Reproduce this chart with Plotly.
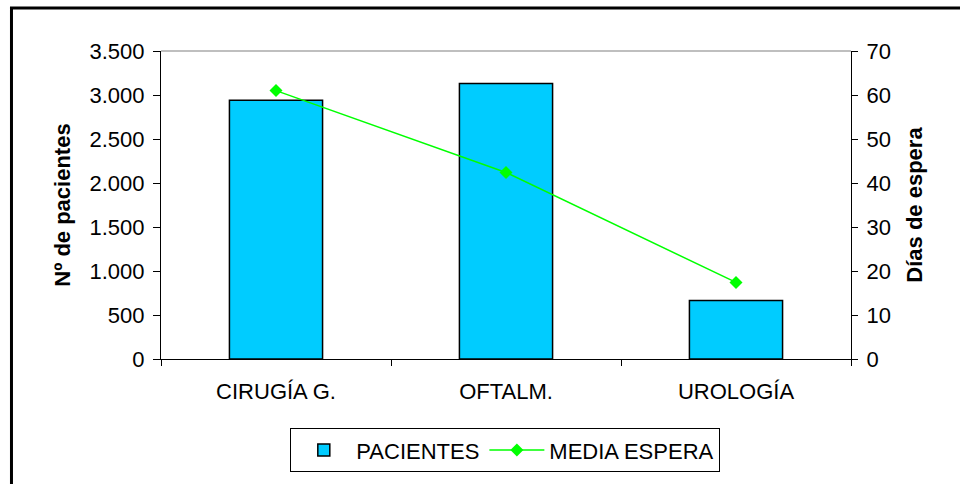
import plotly.graph_objects as go

# Waiting-list data by service
servicios = ["CIRUGÍA G.", "OFTALM.", "UROLOGÍA"]
pacientes = [2940, 3130, 665]
media_espera = [61.0, 42.4, 17.4]

left_ticks = [0, 500, 1000, 1500, 2000, 2500, 3000, 3500]
left_tick_text = ["0", "500", "1.000", "1.500", "2.000", "2.500", "3.000", "3.500"]
right_ticks = [0, 10, 20, 30, 40, 50, 60, 70]

FONT = "Liberation Sans, Arial, sans-serif"
TICK_SIZE = 22
TITLE_SIZE = 22

fig = go.Figure()

fig.add_trace(go.Bar(
    x=servicios, y=pacientes, name="PACIENTES",
    marker=dict(color="#00CCFF", line=dict(color="black", width=1.5)),
    width=0.405, xaxis="x", yaxis="y",
))

fig.add_trace(go.Scatter(
    x=servicios, y=media_espera, name="MEDIA ESPERA",
    mode="lines+markers",
    line=dict(color="#00FF00", width=1.5),
    marker=dict(symbol="diamond", size=10, color="#00FF00"),
    xaxis="x", yaxis="y2",
))

axis_line = dict(showline=True, linecolor="black", linewidth=1.2,
                 tickcolor="black", tickwidth=1.2, showgrid=False, zeroline=False)

fig.update_layout(
    width=960, height=484,
    margin=dict(l=161, r=109, t=51, b=122),
    paper_bgcolor="white", plot_bgcolor="white",
    font=dict(family=FONT, size=TICK_SIZE, color="black"),
    showlegend=True,
    legend=dict(
        orientation="h", x=0.499, xanchor="center", y=-0.225, yanchor="top",
        bordercolor="black", borderwidth=1, bgcolor="white",
        font=dict(family=FONT, size=TICK_SIZE), itemwidth=55,
    ),
    bargap=0.6,
    xaxis=dict(
        type="category", range=[-0.5, 2.5], tickson="boundaries",
        ticks="outside", ticklen=6, tickfont=dict(size=TICK_SIZE),
        ticklabelstandoff=12,
        anchor="y", **axis_line,
    ),
    xaxis2=dict(
        overlaying="x", anchor="y", side="bottom", range=[-0.5, 2.5],
        tickvals=[-0.5, 0.5, 1.5, 2.5], ticks="inside", ticklen=6,
        showticklabels=False, tickcolor="black", tickwidth=1.2,
        showgrid=False, zeroline=False, showline=False,
    ),
    yaxis=dict(
        range=[0, 3500], tickvals=left_ticks, ticktext=left_tick_text,
        ticks="outside", ticklen=7, tickfont=dict(size=TICK_SIZE),
        ticklabelstandoff=4,
        title=dict(text="<b>Nº de pacientes</b>", font=dict(size=TITLE_SIZE), standoff=12),
        anchor="x", **axis_line,
    ),
    yaxis3=dict(
        overlaying="y", side="left", anchor="x", range=[0, 3500],
        tickvals=left_ticks, ticks="inside", ticklen=6, showticklabels=False,
        tickcolor="black", tickwidth=1.2, showgrid=False, zeroline=False, showline=False,
    ),
    yaxis2=dict(
        overlaying="y", side="right", anchor="x", range=[0, 70],
        tickvals=right_ticks, ticks="outside", ticklen=6,
        tickfont=dict(size=TICK_SIZE), ticklabelstandoff=4,
        title=dict(text="<b>Días de espera</b>", font=dict(size=TITLE_SIZE), standoff=16),
        **axis_line,
    ),
    yaxis4=dict(
        overlaying="y", side="right", anchor="x", range=[0, 70],
        tickvals=right_ticks, ticks="inside", ticklen=6, showticklabels=False,
        tickcolor="black", tickwidth=1.2, showgrid=False, zeroline=False, showline=False,
    ),
    shapes=[
        # plot area top edge
        dict(type="line", xref="paper", yref="paper", x0=0, x1=1, y0=1, y1=1,
             line=dict(color="#808080", width=1.2)),
        # outer chart frame
        dict(type="rect", xref="paper", yref="paper",
             x0=-0.2167, x1=1.3, y0=-0.5, y1=1.14,
             line=dict(color="black", width=3)),
    ],
)

fig.write_html("out.html")
